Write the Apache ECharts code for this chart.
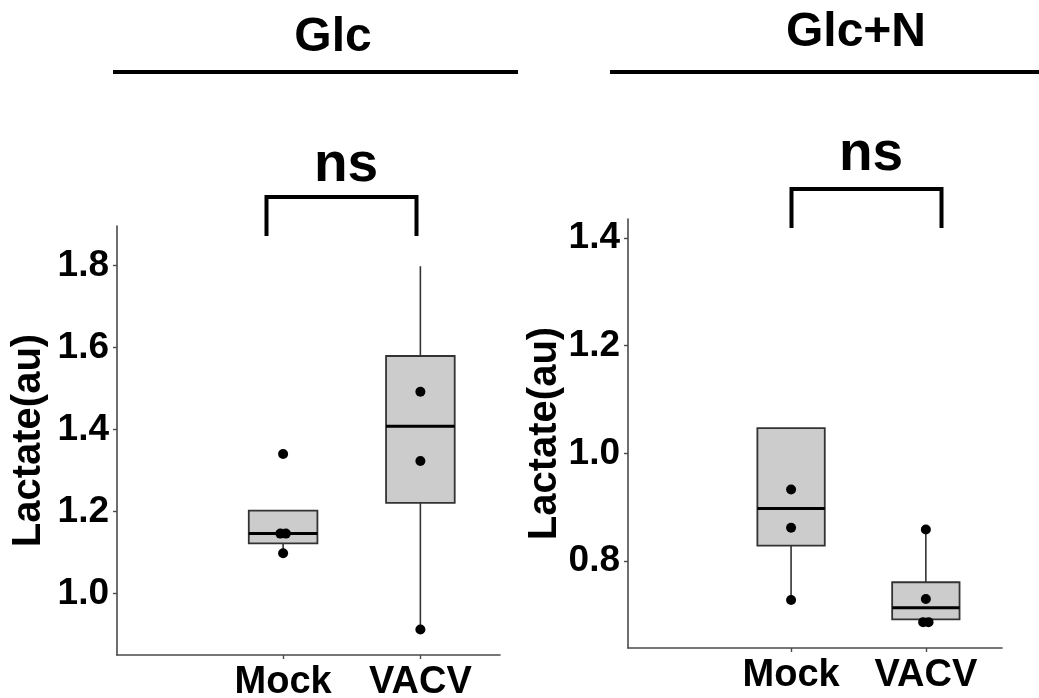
<!DOCTYPE html>
<html><head><meta charset="utf-8">
<script src="https://cdn.jsdelivr.net/npm/echarts@6/dist/echarts.min.js"></script>
<style>html,body{margin:0;padding:0;background:#fff}#c{width:1039px;height:698px}</style>
</head><body><div id="c"></div>
<script>
// ---- data ----
const categories = ['Mock', 'VACV'];
const panelTitles = ['Glc', 'Glc+N'];
const sigLabels = ['ns', 'ns'];
const yAxisName = 'Lactate(au)';
const yTicksGlc = [1.0, 1.2, 1.4, 1.6, 1.8];
const yTicksGlcN = [0.8, 1.0, 1.2, 1.4];
// box stats: [lower whisker, Q1, median, Q3, upper whisker]
const glcBoxMock = [1.098, 1.122, 1.146, 1.202, 1.202];
const glcBoxVacv = [0.912, 1.221, 1.408, 1.579, 1.798];
const glcNBoxMock = [0.728, 0.829, 0.898, 1.047, 1.047];
const glcNBoxVacv = [0.687, 0.692, 0.7135, 0.761, 0.859];
// individual points
const glcPointsMock = [1.340, 1.146, 1.146, 1.098];
const glcPointsVacv = [1.492, 1.323, 0.912];
const glcNPointsMock = [0.933, 0.862, 0.728];
const glcNPointsVacv = [0.859, 0.730, 0.687, 0.687];
// horizontal jitter of points (axis units)
const glcJitterMock = [0, -0.02, 0.02, 0];
const glcJitterVacv = [0, 0, 0];
const glcNJitterMock = [0, 0, 0];
const glcNJitterVacv = [0, 0, -0.02, 0.02];

// ---- build ----
const FONT = '"Liberation Sans", Arial, sans-serif';
const AX = '#4a4a4a';
const BOXW = 0.5;

function boxRows(boxes) {
  return boxes.map((b, i) => [i + 1].concat(b));
}
function pointRows(pointSets, jitterSets) {
  const out = [];
  pointSets.forEach((pts, i) => pts.forEach((v, k) => out.push([i + 1 + jitterSets[i][k], v])));
  return out;
}
function renderBox(params, api) {
  const x = api.value(0);
  const lo = api.coord([x, api.value(1)]);
  const q1 = api.coord([x, api.value(2)]);
  const md = api.coord([x, api.value(3)]);
  const q3 = api.coord([x, api.value(4)]);
  const hi = api.coord([x, api.value(5)]);
  const hw = api.size([BOXW, 0])[0] / 2;
  const cx = q1[0];
  const wStyle = { stroke: '#333', lineWidth: 1.6 };
  return {
    type: 'group',
    children: [
      { type: 'line', shape: { x1: cx, y1: hi[1], x2: cx, y2: q3[1] }, style: wStyle },
      { type: 'line', shape: { x1: cx, y1: q1[1], x2: cx, y2: lo[1] }, style: wStyle },
      { type: 'rect', shape: { x: cx - hw, y: q3[1], width: hw * 2, height: q1[1] - q3[1] },
        style: { fill: '#cccccc', stroke: '#333', lineWidth: 1.8 } },
      { type: 'line', shape: { x1: cx - hw, y1: md[1], x2: cx + hw, y2: md[1] },
        style: { stroke: '#000', lineWidth: 3 } }
    ]
  };
}
function xAxisCfg(gridIndex, max) {
  return {
    type: 'value', gridIndex, min: -0.21, max,
    splitLine: { show: false },
    axisLine: { show: true, onZero: false, lineStyle: { color: AX, width: 1.6 } },
    axisTick: { show: true, customValues: [1, 2], length: 4, lineStyle: { color: AX, width: 1.4 } },
    axisLabel: { customValues: [1, 2], formatter: v => categories[Math.round(v) - 1] || '',
      color: '#000', fontFamily: FONT, fontWeight: 'bold', fontSize: 38, margin: 9 }
  };
}
function yAxisCfg(gridIndex, min, max, ticks, gap) {
  return {
    type: 'value', gridIndex, min, max,
    name: yAxisName, nameLocation: 'middle', nameGap: gap, nameRotate: 90,
    nameTextStyle: { color: '#000', fontFamily: FONT, fontWeight: 'bold', fontSize: 40 },
    splitLine: { show: false },
    axisLine: { show: true, onZero: false, lineStyle: { color: AX, width: 1.6 } },
    axisTick: { show: true, customValues: ticks, length: 4, lineStyle: { color: AX, width: 1.4 } },
    axisLabel: { customValues: ticks, formatter: v => v.toFixed(1),
      color: '#000', fontFamily: FONT, fontWeight: 'bold', fontSize: 37, margin: 8 }
  };
}
const txt = (text, x, y, size) => ({ type: 'text', x, y,
  style: { text, fill: '#000', font: 'bold ' + size + 'px ' + FONT, textAlign: 'center', textVerticalAlign: 'bottom' } });
const ln = (x1, y1, x2, y2) => ({ type: 'line', shape: { x1, y1, x2, y2 }, style: { stroke: '#000', lineWidth: 4 } });
const bracket = (x1, x2, yTop, yBot) => ({ type: 'polyline',
  shape: { points: [[x1, yBot], [x1, yTop], [x2, yTop], [x2, yBot]] },
  style: { stroke: '#000', lineWidth: 4, fill: null } });

const option = {
  animation: false,
  backgroundColor: '#fff',
  grid: [
    { left: 117, top: 226, width: 383, height: 429, containLabel: false, outerBoundsMode: 'none' },
    { left: 628, top: 219, width: 374, height: 429, containLabel: false, outerBoundsMode: 'none' }
  ],
  xAxis: [xAxisCfg(0, 2.58), xAxisCfg(1, 2.565)],
  yAxis: [yAxisCfg(0, 0.85, 1.896, yTicksGlc, 68), yAxisCfg(1, 0.639, 1.435, yTicksGlcN, 63)],
  series: [
    { type: 'custom', xAxisIndex: 0, yAxisIndex: 0, renderItem: renderBox,
      data: boxRows([glcBoxMock, glcBoxVacv]), z: 2 },
    { type: 'scatter', xAxisIndex: 0, yAxisIndex: 0, symbolSize: 10,
      itemStyle: { color: '#000', opacity: 1 }, data: pointRows([glcPointsMock, glcPointsVacv], [glcJitterMock, glcJitterVacv]), z: 3 },
    { type: 'custom', xAxisIndex: 1, yAxisIndex: 1, renderItem: renderBox,
      data: boxRows([glcNBoxMock, glcNBoxVacv]), z: 2 },
    { type: 'scatter', xAxisIndex: 1, yAxisIndex: 1, symbolSize: 10,
      itemStyle: { color: '#000', opacity: 1 }, data: pointRows([glcNPointsMock, glcNPointsVacv], [glcNJitterMock, glcNJitterVacv]), z: 3 }
  ],
  graphic: [
    txt(panelTitles[0], 333, 62, 48),
    txt(panelTitles[1], 856, 57, 48),
    ln(113, 72, 518, 72),
    ln(610, 72, 1039, 72),
    txt(sigLabels[0], 346, 193, 55),
    txt(sigLabels[1], 871, 182, 55),
    bracket(266.5, 416.5, 197, 236),
    bracket(791.5, 941.5, 189, 228)
  ]
};
const chart = echarts.init(document.getElementById('c'), null, { renderer: 'canvas' });
chart.setOption(option);
</script></body></html>
